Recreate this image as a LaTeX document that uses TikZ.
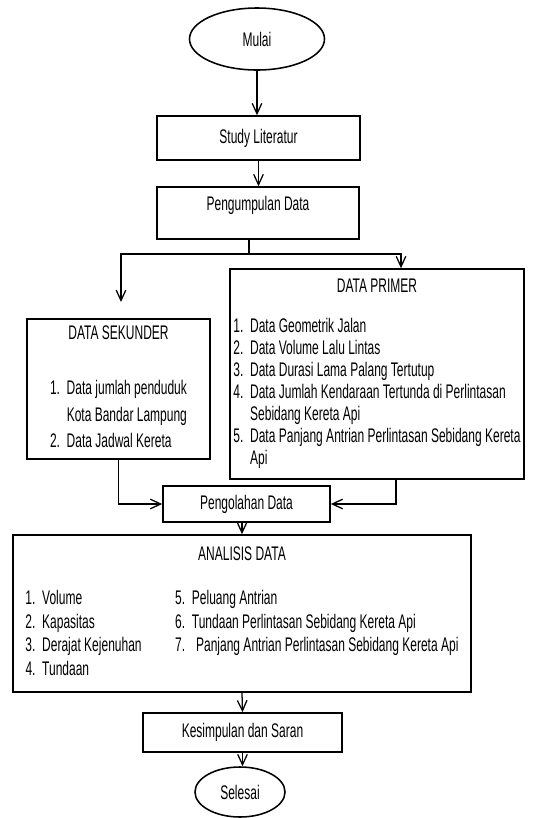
\documentclass[tikz,border=0pt]{standalone}
\usepackage{fontspec}
\setmainfont[FakeStretch=0.61]{Liberation Sans}
\usetikzlibrary{arrows.meta,shapes.geometric}

\begin{document}
\begin{tikzpicture}[x=0.025cm,y=-0.025cm,font=\fontsize{14}{15.6}\selectfont]
    \useasboundingbox (0,0) rectangle (536,818);
    \begin{scope}[every node/.style={draw,line width=1.1pt,inner sep=0pt}]
        \node[ellipse,minimum width=3.375cm,minimum height=1.55cm] (mulai) at (257,39) {Mulai};
        \node[minimum width=5.075cm,minimum height=1.1cm] (studi) at (258.5,138) {Study Literatur};
        \node[minimum width=5.05cm,text height=0.59cm,text depth=0.71cm] (kumpul) at (258,213) {Pengumpulan Data};
        \node[minimum width=4.575cm,minimum height=3.5cm] (sekunder) at (118.5,389) {%
            \begin{tabular}{@{}l@{\ \ }l@{}}
                \multicolumn{2}{c}{DATA SEKUNDER}\\[24pt]
                1. & Data jumlah penduduk\\[3.5pt]
                   & Kota Bandar Lampung\\[3pt]
                2. & Data Jadwal Kereta
            \end{tabular}};
        \node[minimum width=7.35cm,minimum height=5.25cm] (primer) at (377,374) {%
            \begin{tabular}{@{}l@{\ \ }l@{}}
                \multicolumn{2}{c}{DATA PRIMER}\\[12.8pt]
                1. & Data Geometrik Jalan\\
                2. & Data Volume Lalu Lintas\\
                3. & Data Durasi Lama Palang Tertutup\\
                4. & Data Jumlah Kendaraan Tertunda di Perlintasan\\
                   & Sebidang Kereta Api\\
                5. & Data Panjang Antrian Perlintasan Sebidang Kereta\\
                   & Api
            \end{tabular}};
        \node[minimum width=4.175cm,minimum height=0.9cm] (olah) at (246.5,504) {Pengolahan Data};
        \node[minimum width=11.45cm,minimum height=3.925cm] (analisis) at (242,613.5) {%
            \begin{tabular}{@{}l@{\ \ }p{3.325cm}@{}l@{\ \ }l@{}}
                \multicolumn{4}{c}{ANALISIS DATA}\\[16pt]
                1. & Volume & 5. & Peluang Antrian\\[1.2pt]
                2. & Kapasitas & 6. & Tundaan Perlintasan Sebidang Kereta Api\\[1.2pt]
                3. & Derajat Kejenuhan & 7. & \hspace{3pt}Panjang Antrian Perlintasan Sebidang Kereta Api\\[1.2pt]
                4. & Tundaan & &
            \end{tabular}};
        \node[minimum width=4.975cm,minimum height=0.975cm] (simpul) at (242.5,732.5) {Kesimpulan dan Saran};
        \node[ellipse,minimum width=2.25cm,minimum height=1.25cm] (selesai) at (240,792) {Selesai};
    \end{scope}
    \begin{scope}[line width=0.9pt,>={Straight Barb[length=2.6mm,width=2.4mm]}]
        \coordinate (cabang) at (249,254);
        \coordinate (kiri) at (121,302);
        \draw[->] (mulai.south) -- (mulai.south |- studi.north);
        \draw[->] (studi.south) -- (studi.south |- kumpul.north);
        \draw (cabang |- kumpul.south) -- (cabang);
        \draw[->] (cabang) -| (kiri);
        \draw[->] (cabang) -| ([xshift=0.6cm]primer.north);
        \draw[->] (sekunder.south) |- (olah.west);
        \draw[->] ([xshift=0.475cm]primer.south) |- (olah.east);
        \draw[->] (olah.south -| analisis.north) -- (analisis.north);
        \draw[->] (analisis.south) -- (simpul.north);
        \draw[->] (simpul.south) -- (simpul.south |- selesai.north);
    \end{scope}
\end{tikzpicture}
\end{document}
